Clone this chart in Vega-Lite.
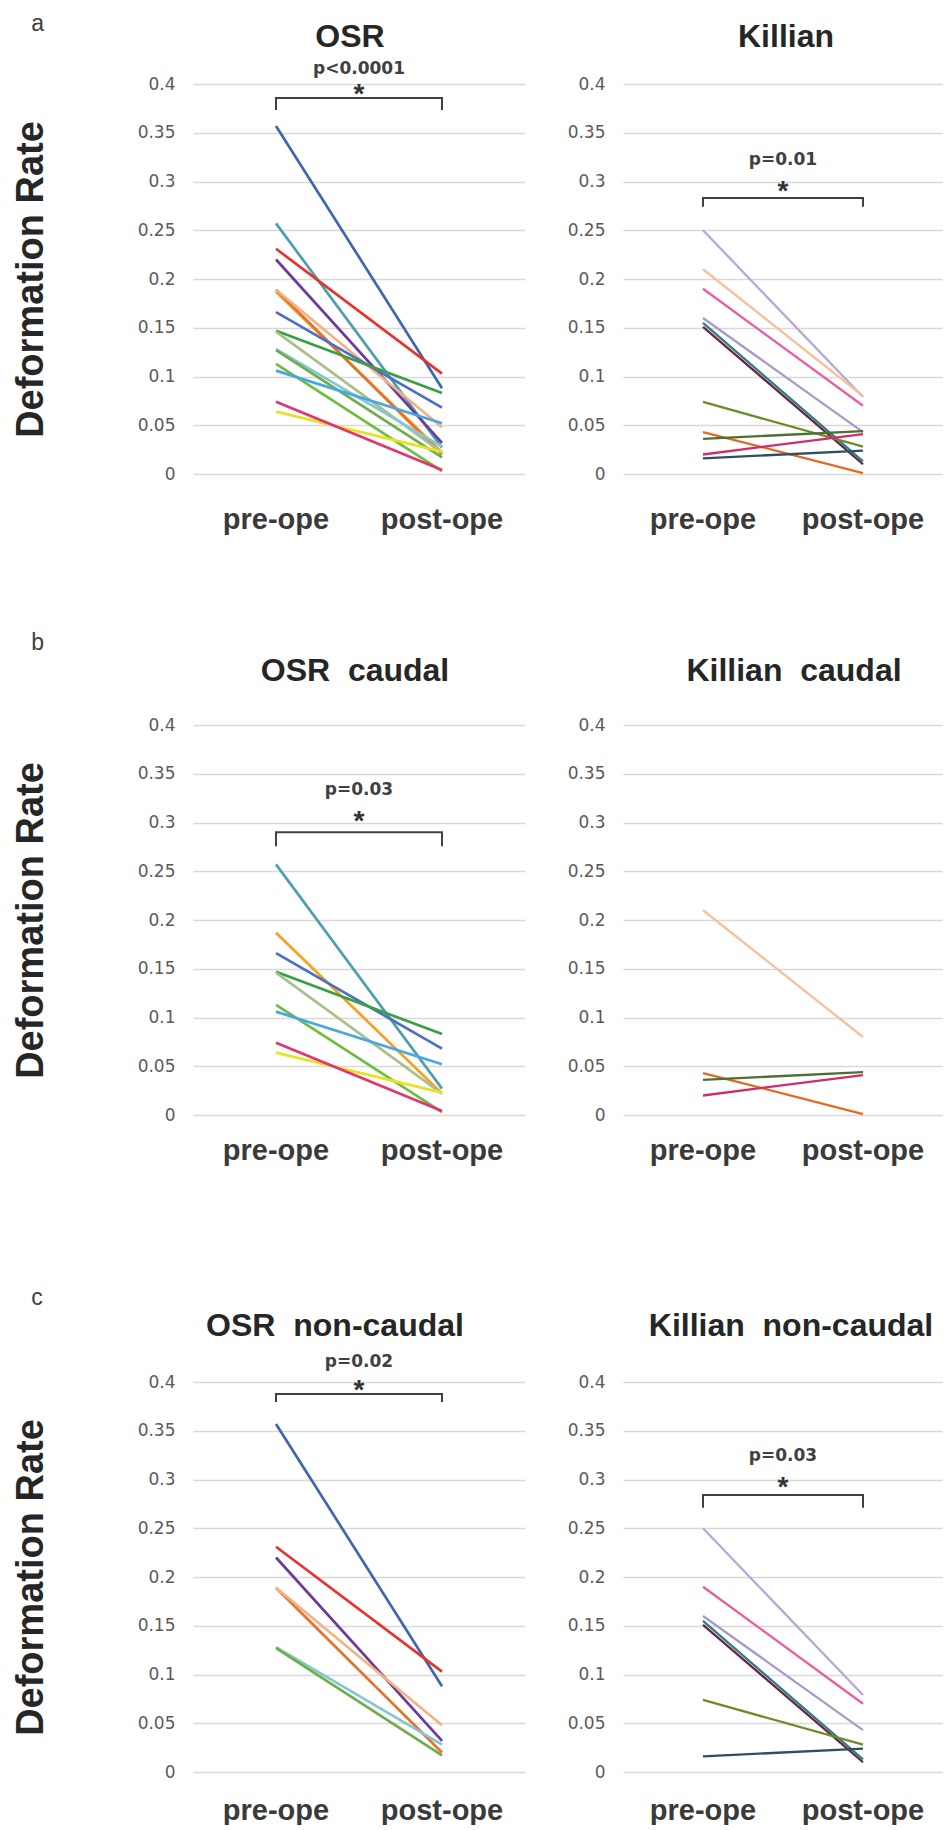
{
  "$schema": "https://vega.github.io/schema/vega-lite/v6.json",
  "background": "white",
  "padding": {"left": 12, "top": 13, "right": 0, "bottom": 0},
  "config": {
    "view": {"stroke": null},
    "font": "Liberation Sans",
    "title": {"font": "Liberation Sans", "fontSize": 32, "fontWeight": "bold", "color": "#262626"},
    "axisY": {"labelFont": "DejaVu Sans", "labelFontSize": 17, "labelColor": "#5a5a5a", "labelPadding": 18, "ticks": false, "tickSize": 0, "domain": false, "grid": true, "gridColor": "#d9d9d9", "gridWidth": 1.6, "titleFont": "Liberation Sans", "titleFontSize": 38, "titleFontWeight": "bold", "titleColor": "#262626", "titlePadding": 87},
    "axisX": {"labelFont": "Liberation Sans", "labelFontSize": 29, "labelFontWeight": "bold", "labelColor": "#3a3a3a", "labelAngle": 0, "ticks": false, "tickSize": 0, "domain": false, "grid": false}
  },
  "datasets": {
    "lines": [
      {"side": "OSR", "region": "non-caudal", "id": "o1", "phase": "pre-ope", "rate": 0.357}, {"side": "OSR", "region": "non-caudal", "id": "o1", "phase": "post-ope", "rate": 0.088},
      {"side": "OSR", "region": "caudal", "id": "o2", "phase": "pre-ope", "rate": 0.257}, {"side": "OSR", "region": "caudal", "id": "o2", "phase": "post-ope", "rate": 0.027},
      {"side": "OSR", "region": "non-caudal", "id": "o3", "phase": "pre-ope", "rate": 0.231}, {"side": "OSR", "region": "non-caudal", "id": "o3", "phase": "post-ope", "rate": 0.103},
      {"side": "OSR", "region": "non-caudal", "id": "o4", "phase": "pre-ope", "rate": 0.22}, {"side": "OSR", "region": "non-caudal", "id": "o4", "phase": "post-ope", "rate": 0.032},
      {"side": "OSR", "region": "caudal", "id": "o5", "phase": "pre-ope", "rate": 0.187}, {"side": "OSR", "region": "caudal", "id": "o5", "phase": "post-ope", "rate": 0.022},
      {"side": "OSR", "region": "non-caudal", "id": "o6", "phase": "pre-ope", "rate": 0.189}, {"side": "OSR", "region": "non-caudal", "id": "o6", "phase": "post-ope", "rate": 0.02},
      {"side": "OSR", "region": "non-caudal", "id": "o7", "phase": "pre-ope", "rate": 0.189}, {"side": "OSR", "region": "non-caudal", "id": "o7", "phase": "post-ope", "rate": 0.048},
      {"side": "OSR", "region": "caudal", "id": "o8", "phase": "pre-ope", "rate": 0.166}, {"side": "OSR", "region": "caudal", "id": "o8", "phase": "post-ope", "rate": 0.068},
      {"side": "OSR", "region": "caudal", "id": "o9", "phase": "pre-ope", "rate": 0.147}, {"side": "OSR", "region": "caudal", "id": "o9", "phase": "post-ope", "rate": 0.083},
      {"side": "OSR", "region": "caudal", "id": "o10", "phase": "pre-ope", "rate": 0.146}, {"side": "OSR", "region": "caudal", "id": "o10", "phase": "post-ope", "rate": 0.022},
      {"side": "OSR", "region": "non-caudal", "id": "o11", "phase": "pre-ope", "rate": 0.128}, {"side": "OSR", "region": "non-caudal", "id": "o11", "phase": "post-ope", "rate": 0.028},
      {"side": "OSR", "region": "non-caudal", "id": "o12", "phase": "pre-ope", "rate": 0.127}, {"side": "OSR", "region": "non-caudal", "id": "o12", "phase": "post-ope", "rate": 0.017},
      {"side": "OSR", "region": "caudal", "id": "o13", "phase": "pre-ope", "rate": 0.113}, {"side": "OSR", "region": "caudal", "id": "o13", "phase": "post-ope", "rate": 0.003},
      {"side": "OSR", "region": "caudal", "id": "o14", "phase": "pre-ope", "rate": 0.106}, {"side": "OSR", "region": "caudal", "id": "o14", "phase": "post-ope", "rate": 0.052},
      {"side": "OSR", "region": "caudal", "id": "o15", "phase": "pre-ope", "rate": 0.064}, {"side": "OSR", "region": "caudal", "id": "o15", "phase": "post-ope", "rate": 0.023},
      {"side": "OSR", "region": "caudal", "id": "o16", "phase": "pre-ope", "rate": 0.074}, {"side": "OSR", "region": "caudal", "id": "o16", "phase": "post-ope", "rate": 0.004},
      {"side": "Killian", "region": "non-caudal", "id": "k1", "phase": "pre-ope", "rate": 0.25}, {"side": "Killian", "region": "non-caudal", "id": "k1", "phase": "post-ope", "rate": 0.079},
      {"side": "Killian", "region": "caudal", "id": "k2", "phase": "pre-ope", "rate": 0.21}, {"side": "Killian", "region": "caudal", "id": "k2", "phase": "post-ope", "rate": 0.08},
      {"side": "Killian", "region": "non-caudal", "id": "k3", "phase": "pre-ope", "rate": 0.19}, {"side": "Killian", "region": "non-caudal", "id": "k3", "phase": "post-ope", "rate": 0.07},
      {"side": "Killian", "region": "non-caudal", "id": "k4", "phase": "pre-ope", "rate": 0.16}, {"side": "Killian", "region": "non-caudal", "id": "k4", "phase": "post-ope", "rate": 0.043},
      {"side": "Killian", "region": "non-caudal", "id": "k5", "phase": "pre-ope", "rate": 0.151}, {"side": "Killian", "region": "non-caudal", "id": "k5", "phase": "post-ope", "rate": 0.01},
      {"side": "Killian", "region": "non-caudal", "id": "k6", "phase": "pre-ope", "rate": 0.155}, {"side": "Killian", "region": "non-caudal", "id": "k6", "phase": "post-ope", "rate": 0.013},
      {"side": "Killian", "region": "non-caudal", "id": "k7", "phase": "pre-ope", "rate": 0.074}, {"side": "Killian", "region": "non-caudal", "id": "k7", "phase": "post-ope", "rate": 0.028},
      {"side": "Killian", "region": "caudal", "id": "k8", "phase": "pre-ope", "rate": 0.043}, {"side": "Killian", "region": "caudal", "id": "k8", "phase": "post-ope", "rate": 0.001},
      {"side": "Killian", "region": "caudal", "id": "k9", "phase": "pre-ope", "rate": 0.036}, {"side": "Killian", "region": "caudal", "id": "k9", "phase": "post-ope", "rate": 0.044},
      {"side": "Killian", "region": "caudal", "id": "k10", "phase": "pre-ope", "rate": 0.02}, {"side": "Killian", "region": "caudal", "id": "k10", "phase": "post-ope", "rate": 0.041},
      {"side": "Killian", "region": "non-caudal", "id": "k11", "phase": "pre-ope", "rate": 0.016}, {"side": "Killian", "region": "non-caudal", "id": "k11", "phase": "post-ope", "rate": 0.024}
    ],
    "notes": [
      {"panel": "aL", "kind": "p", "label": "p<0.0001", "phase": "post-ope", "rate": 0.415},
      {"panel": "aL", "kind": "star", "label": "*", "phase": "post-ope", "rate": 0.397},
      {"panel": "aR", "kind": "p", "label": "p=0.01", "phase": "post-ope", "rate": 0.322},
      {"panel": "aR", "kind": "star", "label": "*", "phase": "post-ope", "rate": 0.2975},
      {"panel": "bL", "kind": "p", "label": "p=0.03", "phase": "post-ope", "rate": 0.333},
      {"panel": "bL", "kind": "star", "label": "*", "phase": "post-ope", "rate": 0.3086},
      {"panel": "cL", "kind": "p", "label": "p=0.02", "phase": "post-ope", "rate": 0.4206},
      {"panel": "cL", "kind": "star", "label": "*", "phase": "post-ope", "rate": 0.399},
      {"panel": "cR", "kind": "p", "label": "p=0.03", "phase": "post-ope", "rate": 0.324},
      {"panel": "cR", "kind": "star", "label": "*", "phase": "post-ope", "rate": 0.299}
    ],
    "brackets": [
      {"panel": "aL", "k": 1, "phase": "pre-ope", "rate": 0.3734}, {"panel": "aL", "k": 2, "phase": "pre-ope", "rate": 0.3857}, {"panel": "aL", "k": 3, "phase": "post-ope", "rate": 0.3857}, {"panel": "aL", "k": 4, "phase": "post-ope", "rate": 0.3734},
      {"panel": "aR", "k": 1, "phase": "pre-ope", "rate": 0.274}, {"panel": "aR", "k": 2, "phase": "pre-ope", "rate": 0.2832}, {"panel": "aR", "k": 3, "phase": "post-ope", "rate": 0.2832}, {"panel": "aR", "k": 4, "phase": "post-ope", "rate": 0.274},
      {"panel": "bL", "k": 1, "phase": "pre-ope", "rate": 0.2757}, {"panel": "bL", "k": 2, "phase": "pre-ope", "rate": 0.29}, {"panel": "bL", "k": 3, "phase": "post-ope", "rate": 0.29}, {"panel": "bL", "k": 4, "phase": "post-ope", "rate": 0.2757},
      {"panel": "cL", "k": 1, "phase": "pre-ope", "rate": 0.3794}, {"panel": "cL", "k": 2, "phase": "pre-ope", "rate": 0.3877}, {"panel": "cL", "k": 3, "phase": "post-ope", "rate": 0.3877}, {"panel": "cL", "k": 4, "phase": "post-ope", "rate": 0.3794},
      {"panel": "cR", "k": 1, "phase": "pre-ope", "rate": 0.271}, {"panel": "cR", "k": 2, "phase": "pre-ope", "rate": 0.284}, {"panel": "cR", "k": 3, "phase": "post-ope", "rate": 0.284}, {"panel": "cR", "k": 4, "phase": "post-ope", "rate": 0.271}
    ]
  },
  "spacing": 98,
  "vconcat": [
    {
      "title": {"text": "a", "anchor": "start", "frame": "bounds", "fontSize": 23, "fontWeight": "normal", "color": "#404040", "dx": 19, "offset": -15},
      "spacing": 42,
      "hconcat": [
        {
          "width": 332, "height": 390,
          "title": {"text": "OSR", "frame": "group", "dx": -9, "offset": 6},
          "encoding": {
            "x": {"field": "phase", "type": "nominal", "scale": {"type": "band", "domain": ["pre-ope", "post-ope"], "paddingInner": 0, "paddingOuter": 0}, "axis": {"title": null, "labelPadding": 31}},
            "y": {"field": "rate", "type": "quantitative", "scale": {"domain": [0, 0.4], "nice": false}, "axis": {"title": "Deformation Rate", "values": [0, 0.05, 0.1, 0.15, 0.2, 0.25, 0.3, 0.35, 0.4], "labelExpr": "'' + datum.value"}}
          },
          "layer": [
            {"data": {"name": "lines"}, "transform": [{"filter": "datum.side == 'OSR'"}], "mark": {"type": "line", "strokeWidth": 2.7}, "encoding": {"detail": {"field": "id"}, "color": {"field": "id", "type": "nominal", "legend": null, "scale": {"domain": ["o1","o2","o3","o4","o5","o6","o7","o8","o9","o10","o11","o12","o13","o14","o15","o16","k1","k2","k3","k4","k5","k6","k7","k8","k9","k10","k11"], "range": ["#4166b0","#4c9fae","#e8322d","#6c3a9c","#f6a11f","#e8722a","#f4b183","#4a6fc8","#38a043","#a8c08a","#86c6d0","#6cae4a","#6dbd3f","#4aa6e0","#e5e324","#e4336d","#b8a8d6","#f8c09a","#ea5c9e","#a89ac8","#70203f","#2e7c84","#6b8e23","#e3691e","#4b7032","#d02b6b","#2f4f63"]}}}},
            {"data": {"name": "brackets"}, "transform": [{"filter": "datum.panel == 'aL'"}], "mark": {"type": "line", "color": "#404040", "strokeWidth": 2}, "encoding": {"order": {"field": "k"}}},
            {"data": {"name": "notes"}, "transform": [{"filter": "datum.panel == 'aL' && datum.kind == 'p'"}], "mark": {"type": "text", "font": "DejaVu Sans", "fontWeight": "bold", "fontSize": 17, "color": "#404040", "baseline": "middle"}, "encoding": {"x": {"field": "phase", "type": "nominal", "bandPosition": 0, "axis": {"title": null, "labelPadding": 31}}, "text": {"field": "label"}}},
            {"data": {"name": "notes"}, "transform": [{"filter": "datum.panel == 'aL' && datum.kind == 'star'"}], "mark": {"type": "text", "font": "Liberation Sans", "fontWeight": "bold", "fontSize": 28, "color": "#333333", "baseline": "middle", "dy": 8}, "encoding": {"x": {"field": "phase", "type": "nominal", "bandPosition": 0, "axis": {"title": null, "labelPadding": 31}}, "text": {"field": "label"}}}
          ]
        },
        {
          "width": 320, "height": 390,
          "title": {"text": "Killian", "frame": "group", "dx": 3, "offset": 21},
          "encoding": {
            "x": {"field": "phase", "type": "nominal", "scale": {"type": "band", "domain": ["pre-ope", "post-ope"], "paddingInner": 0, "paddingOuter": 0}, "axis": {"title": null, "labelPadding": 31}},
            "y": {"field": "rate", "type": "quantitative", "scale": {"domain": [0, 0.4], "nice": false}, "axis": {"title": null, "values": [0, 0.05, 0.1, 0.15, 0.2, 0.25, 0.3, 0.35, 0.4], "labelExpr": "'' + datum.value"}}
          },
          "layer": [
            {"data": {"name": "lines"}, "transform": [{"filter": "datum.side == 'Killian'"}], "mark": {"type": "line", "strokeWidth": 2.3}, "encoding": {"detail": {"field": "id"}, "color": {"field": "id", "type": "nominal", "legend": null}}},
            {"data": {"name": "brackets"}, "transform": [{"filter": "datum.panel == 'aR'"}], "mark": {"type": "line", "color": "#404040", "strokeWidth": 2}, "encoding": {"order": {"field": "k"}}},
            {"data": {"name": "notes"}, "transform": [{"filter": "datum.panel == 'aR' && datum.kind == 'p'"}], "mark": {"type": "text", "font": "DejaVu Sans", "fontWeight": "bold", "fontSize": 17, "color": "#404040", "baseline": "middle"}, "encoding": {"x": {"field": "phase", "type": "nominal", "bandPosition": 0, "axis": {"title": null, "labelPadding": 31}}, "text": {"field": "label"}}},
            {"data": {"name": "notes"}, "transform": [{"filter": "datum.panel == 'aR' && datum.kind == 'star'"}], "mark": {"type": "text", "font": "Liberation Sans", "fontWeight": "bold", "fontSize": 28, "color": "#333333", "baseline": "middle", "dy": 8}, "encoding": {"x": {"field": "phase", "type": "nominal", "bandPosition": 0, "axis": {"title": null, "labelPadding": 31}}, "text": {"field": "label"}}}
          ]
        }
      ]
    },
    {
      "spacing": 121,
      "vconcat": [
        {
          "title": {"text": "b", "anchor": "start", "frame": "bounds", "fontSize": 23, "fontWeight": "normal", "color": "#404040", "dx": 19, "offset": 0},
          "spacing": 42,
          "hconcat": [
            {
              "width": 332, "height": 390,
              "title": {"text": "OSR\u00a0 caudal", "frame": "group", "dx": -4, "offset": 28},
              "encoding": {
                "x": {"field": "phase", "type": "nominal", "scale": {"type": "band", "domain": ["pre-ope", "post-ope"], "paddingInner": 0, "paddingOuter": 0}, "axis": {"title": null, "labelPadding": 21}},
                "y": {"field": "rate", "type": "quantitative", "scale": {"domain": [0, 0.4], "nice": false}, "axis": {"title": "Deformation Rate", "values": [0, 0.05, 0.1, 0.15, 0.2, 0.25, 0.3, 0.35, 0.4], "labelExpr": "'' + datum.value"}}
              },
              "layer": [
                {"data": {"name": "lines"}, "transform": [{"filter": "datum.side == 'OSR' && datum.region == 'caudal'"}], "mark": {"type": "line", "strokeWidth": 2.7}, "encoding": {"detail": {"field": "id"}, "color": {"field": "id", "type": "nominal", "legend": null}}},
                {"data": {"name": "brackets"}, "transform": [{"filter": "datum.panel == 'bL'"}], "mark": {"type": "line", "color": "#404040", "strokeWidth": 2}, "encoding": {"order": {"field": "k"}}},
                {"data": {"name": "notes"}, "transform": [{"filter": "datum.panel == 'bL' && datum.kind == 'p'"}], "mark": {"type": "text", "font": "DejaVu Sans", "fontWeight": "bold", "fontSize": 17, "color": "#404040", "baseline": "middle"}, "encoding": {"x": {"field": "phase", "type": "nominal", "bandPosition": 0, "axis": {"title": null, "labelPadding": 21}}, "text": {"field": "label"}}},
                {"data": {"name": "notes"}, "transform": [{"filter": "datum.panel == 'bL' && datum.kind == 'star'"}], "mark": {"type": "text", "font": "Liberation Sans", "fontWeight": "bold", "fontSize": 28, "color": "#333333", "baseline": "middle", "dy": 8}, "encoding": {"x": {"field": "phase", "type": "nominal", "bandPosition": 0, "axis": {"title": null, "labelPadding": 21}}, "text": {"field": "label"}}}
              ]
            },
            {
              "width": 320, "height": 390,
              "title": {"text": "Killian\u00a0 caudal", "frame": "group", "dx": 11, "offset": 28},
              "encoding": {
                "x": {"field": "phase", "type": "nominal", "scale": {"type": "band", "domain": ["pre-ope", "post-ope"], "paddingInner": 0, "paddingOuter": 0}, "axis": {"title": null, "labelPadding": 21}},
                "y": {"field": "rate", "type": "quantitative", "scale": {"domain": [0, 0.4], "nice": false}, "axis": {"title": null, "values": [0, 0.05, 0.1, 0.15, 0.2, 0.25, 0.3, 0.35, 0.4], "labelExpr": "'' + datum.value"}}
              },
              "layer": [
                {"data": {"name": "lines"}, "transform": [{"filter": "datum.side == 'Killian' && datum.region == 'caudal'"}], "mark": {"type": "line", "strokeWidth": 2.3}, "encoding": {"detail": {"field": "id"}, "color": {"field": "id", "type": "nominal", "legend": null}}}
              ]
            }
          ]
        },
        {
          "title": {"text": "c", "anchor": "start", "frame": "bounds", "fontSize": 23, "fontWeight": "normal", "color": "#404040", "dx": 19, "offset": 0},
          "spacing": 42,
          "hconcat": [
            {
              "width": 332, "height": 390,
              "title": {"text": "OSR\u00a0 non-caudal", "frame": "group", "dx": -24, "offset": 10},
              "encoding": {
                "x": {"field": "phase", "type": "nominal", "scale": {"type": "band", "domain": ["pre-ope", "post-ope"], "paddingInner": 0, "paddingOuter": 0}, "axis": {"title": null, "labelPadding": 24}},
                "y": {"field": "rate", "type": "quantitative", "scale": {"domain": [0, 0.4], "nice": false}, "axis": {"title": "Deformation Rate", "values": [0, 0.05, 0.1, 0.15, 0.2, 0.25, 0.3, 0.35, 0.4], "labelExpr": "'' + datum.value"}}
              },
              "layer": [
                {"data": {"name": "lines"}, "transform": [{"filter": "datum.side == 'OSR' && datum.region == 'non-caudal'"}], "mark": {"type": "line", "strokeWidth": 2.7}, "encoding": {"detail": {"field": "id"}, "color": {"field": "id", "type": "nominal", "legend": null}}},
                {"data": {"name": "brackets"}, "transform": [{"filter": "datum.panel == 'cL'"}], "mark": {"type": "line", "color": "#404040", "strokeWidth": 2}, "encoding": {"order": {"field": "k"}}},
                {"data": {"name": "notes"}, "transform": [{"filter": "datum.panel == 'cL' && datum.kind == 'p'"}], "mark": {"type": "text", "font": "DejaVu Sans", "fontWeight": "bold", "fontSize": 17, "color": "#404040", "baseline": "middle"}, "encoding": {"x": {"field": "phase", "type": "nominal", "bandPosition": 0, "axis": {"title": null, "labelPadding": 24}}, "text": {"field": "label"}}},
                {"data": {"name": "notes"}, "transform": [{"filter": "datum.panel == 'cL' && datum.kind == 'star'"}], "mark": {"type": "text", "font": "Liberation Sans", "fontWeight": "bold", "fontSize": 28, "color": "#333333", "baseline": "middle", "dy": 8}, "encoding": {"x": {"field": "phase", "type": "nominal", "bandPosition": 0, "axis": {"title": null, "labelPadding": 24}}, "text": {"field": "label"}}}
              ]
            },
            {
              "width": 320, "height": 390,
              "title": {"text": "Killian\u00a0 non-caudal", "frame": "group", "dx": 8, "offset": 30},
              "encoding": {
                "x": {"field": "phase", "type": "nominal", "scale": {"type": "band", "domain": ["pre-ope", "post-ope"], "paddingInner": 0, "paddingOuter": 0}, "axis": {"title": null, "labelPadding": 24}},
                "y": {"field": "rate", "type": "quantitative", "scale": {"domain": [0, 0.4], "nice": false}, "axis": {"title": null, "values": [0, 0.05, 0.1, 0.15, 0.2, 0.25, 0.3, 0.35, 0.4], "labelExpr": "'' + datum.value"}}
              },
              "layer": [
                {"data": {"name": "lines"}, "transform": [{"filter": "datum.side == 'Killian' && datum.region == 'non-caudal'"}], "mark": {"type": "line", "strokeWidth": 2.3}, "encoding": {"detail": {"field": "id"}, "color": {"field": "id", "type": "nominal", "legend": null}}},
                {"data": {"name": "brackets"}, "transform": [{"filter": "datum.panel == 'cR'"}], "mark": {"type": "line", "color": "#404040", "strokeWidth": 2}, "encoding": {"order": {"field": "k"}}},
                {"data": {"name": "notes"}, "transform": [{"filter": "datum.panel == 'cR' && datum.kind == 'p'"}], "mark": {"type": "text", "font": "DejaVu Sans", "fontWeight": "bold", "fontSize": 17, "color": "#404040", "baseline": "middle"}, "encoding": {"x": {"field": "phase", "type": "nominal", "bandPosition": 0, "axis": {"title": null, "labelPadding": 24}}, "text": {"field": "label"}}},
                {"data": {"name": "notes"}, "transform": [{"filter": "datum.panel == 'cR' && datum.kind == 'star'"}], "mark": {"type": "text", "font": "Liberation Sans", "fontWeight": "bold", "fontSize": 28, "color": "#333333", "baseline": "middle", "dy": 8}, "encoding": {"x": {"field": "phase", "type": "nominal", "bandPosition": 0, "axis": {"title": null, "labelPadding": 24}}, "text": {"field": "label"}}}
              ]
            }
          ]
        }
      ]
    }
  ]
}
